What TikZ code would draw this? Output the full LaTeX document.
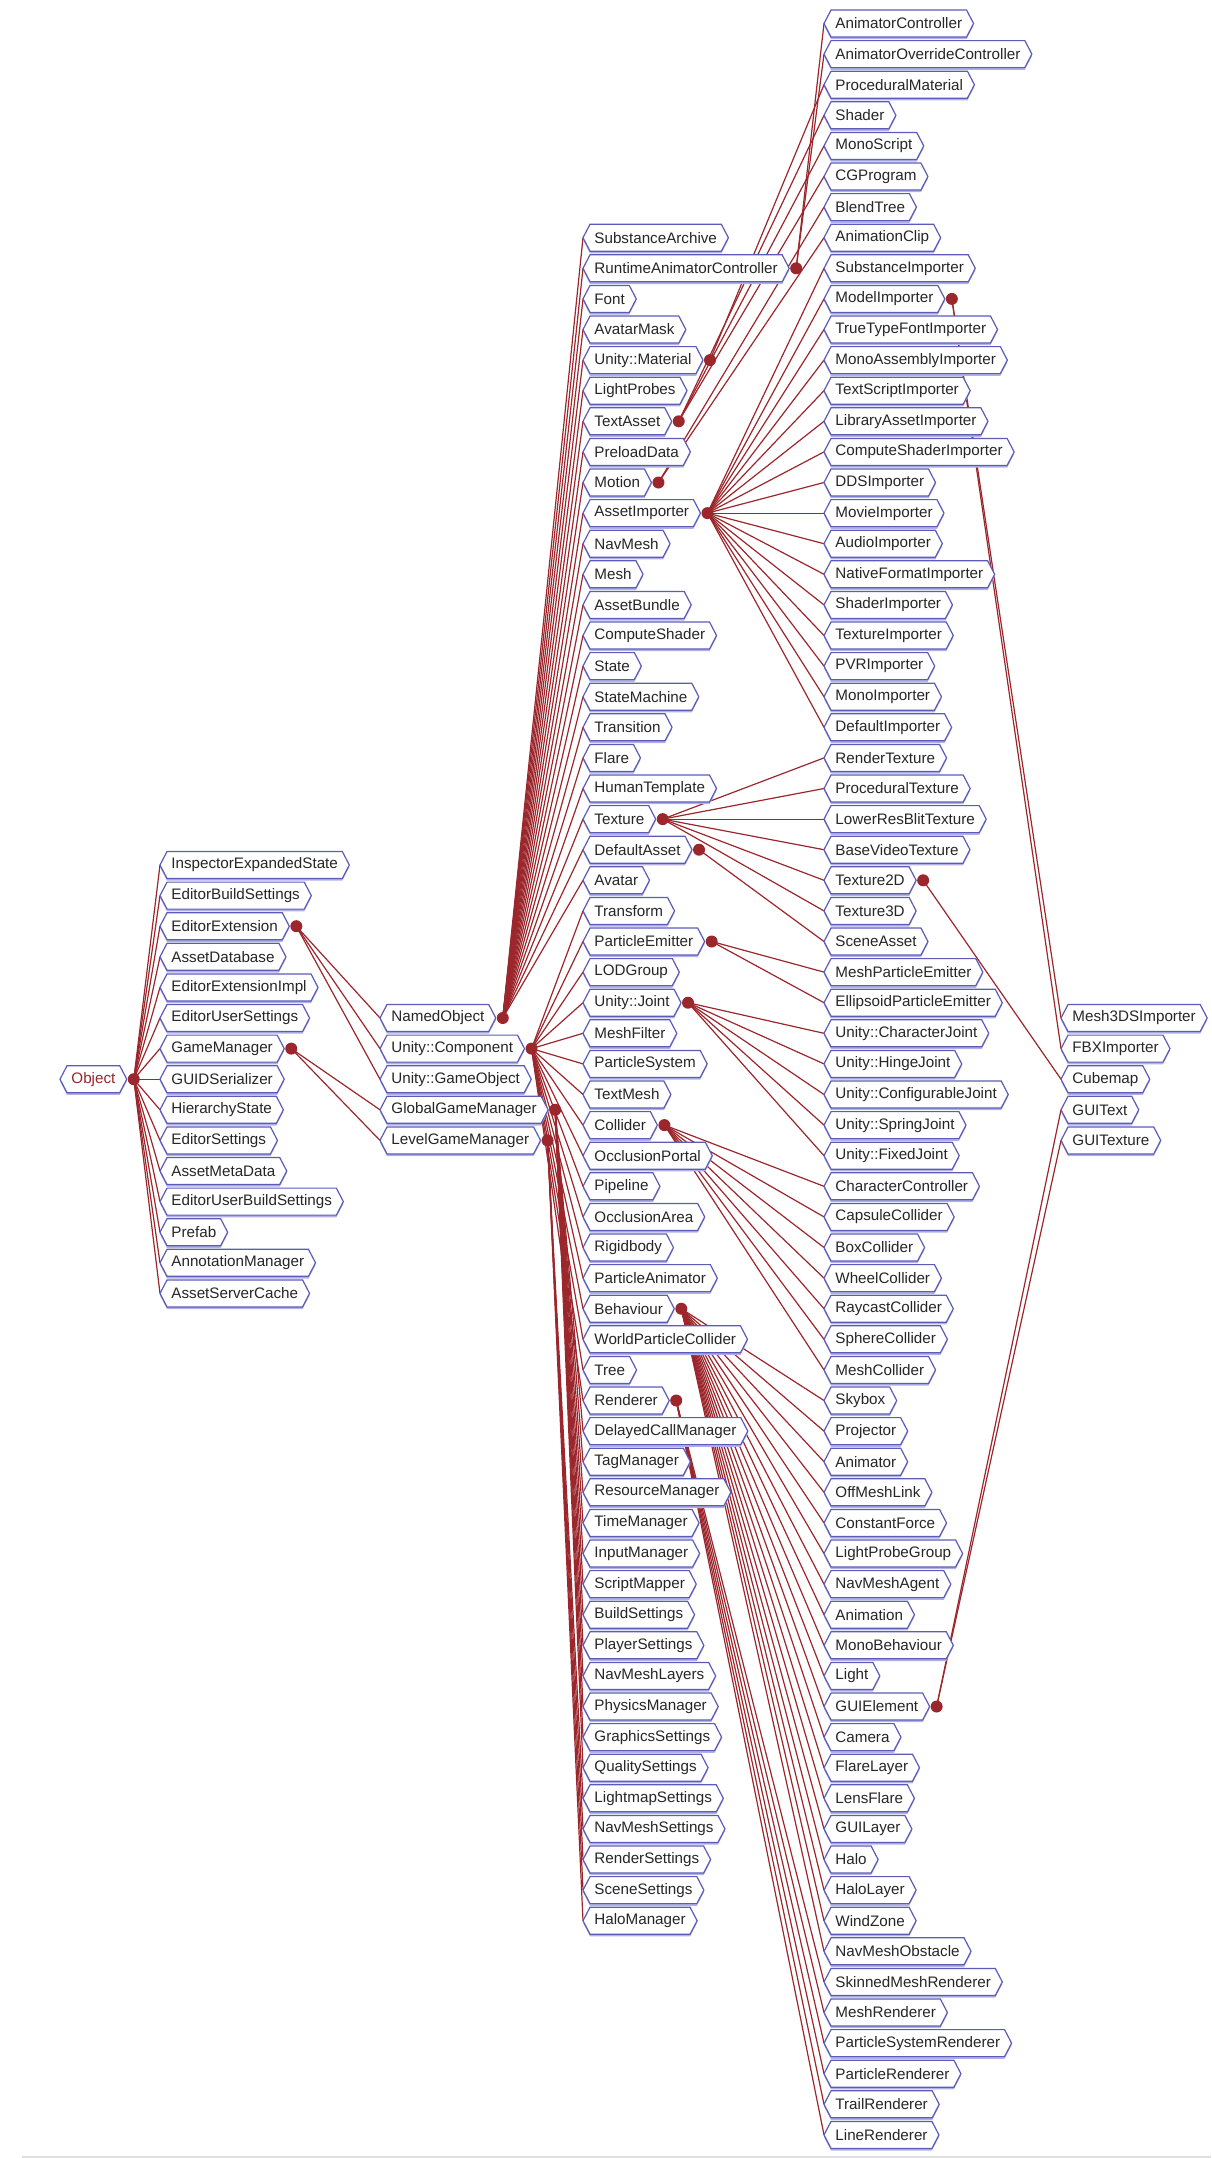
\documentclass[tikz,border=0pt]{standalone}
\usepackage{fontspec}
\setmainfont{Liberation Sans}
\usetikzlibrary{shapes.symbols,shadows,backgrounds}

\def\rowzero{23.5}
\def\rowdy{30.6}
\def\colA{60}
\def\colB{160}
\def\colC{380}
\def\colD{583}
\def\colE{824}
\def\colF{1061}
\definecolor{classblue}{RGB}{92,92,184}
\definecolor{classshade}{RGB}{176,176,230}
\definecolor{inheritred}{RGB}{155,38,44}
\newcommand{\rowY}[1]{\rowzero+(#1)*\rowdy}

\tikzset{
  cls/.style={signal,signal to=east and west,signal pointer angle=125,
    draw=classblue,line width=0.6pt,fill=white,text=black!85,
    font=\fontsize{7.6pt}{9pt}\selectfont,inner xsep=2.2pt,inner ysep=0pt,
    minimum height=13.5pt,outer sep=0pt,anchor=west,
    drop shadow={shadow xshift=0pt,shadow yshift=-1.1pt,fill=classshade,opacity=1}},
  inherit/.style={inheritred,line width=0.6pt},
  knob/.style={fill=inheritred},
}

\begin{document}
\begin{tikzpicture}[x=0.5pt,y=-0.5pt]
  \useasboundingbox (0,0) rectangle (1211,2158);
  % root and first level
  \node[cls,text=inheritred] (Object) at (\colA,{\rowY{34.5}}) {Object};
  \foreach \nm [count=\n from 0] in {InspectorExpandedState,EditorBuildSettings,EditorExtension,
      AssetDatabase,EditorExtensionImpl,EditorUserSettings,GameManager,GUIDSerializer,
      HierarchyState,EditorSettings,AssetMetaData,EditorUserBuildSettings,Prefab,
      AnnotationManager,AssetServerCache}
    \node[cls] (\nm) at (\colB,{\rowY{27.5+\n}}) {\nm};
  \foreach \nm/\lb [count=\n from 0] in {NamedObject/NamedObject,UnityComponent/Unity::Component,
      UnityGameObject/Unity::GameObject,GlobalGameManager/GlobalGameManager,
      LevelGameManager/LevelGameManager}
    \node[cls] (\nm) at (\colC,{\rowY{32.5+\n}}) {\lb};
  % third column
  \foreach \nm [count=\n from 7] in {SubstanceArchive,RuntimeAnimatorController,Font,AvatarMask}
    \node[cls] (\nm) at (\colD,{\rowY{\n}}) {\nm};
  \node[cls] (UnityMaterial) at (\colD,{\rowY{11}}) {Unity::Material};
  \foreach \nm [count=\n from 12] in {LightProbes,TextAsset,PreloadData,Motion,AssetImporter,
      NavMesh,Mesh,AssetBundle,ComputeShader,State,StateMachine,Transition,Flare,
      HumanTemplate,Texture,DefaultAsset,Avatar,Transform,ParticleEmitter,LODGroup}
    \node[cls] (\nm) at (\colD,{\rowY{\n}}) {\nm};
  \node[cls] (UnityJoint) at (\colD,{\rowY{32}}) {Unity::Joint};
  \foreach \nm [count=\n from 33] in {MeshFilter,ParticleSystem,TextMesh,Collider,OcclusionPortal,
      Pipeline,OcclusionArea,Rigidbody,ParticleAnimator,Behaviour,WorldParticleCollider,Tree,
      Renderer,DelayedCallManager,TagManager,ResourceManager,TimeManager,InputManager,
      ScriptMapper,BuildSettings,PlayerSettings,NavMeshLayers,PhysicsManager,GraphicsSettings,
      QualitySettings,LightmapSettings,NavMeshSettings,RenderSettings,SceneSettings,HaloManager}
    \node[cls] (\nm) at (\colD,{\rowY{\n}}) {\nm};
  % fourth column
  \foreach \nm [count=\n from 0] in {AnimatorController,AnimatorOverrideController,
      ProceduralMaterial,Shader,MonoScript,CGProgram,BlendTree,AnimationClip,SubstanceImporter,
      ModelImporter,TrueTypeFontImporter,MonoAssemblyImporter,TextScriptImporter,
      LibraryAssetImporter,ComputeShaderImporter,DDSImporter,MovieImporter,AudioImporter,
      NativeFormatImporter,ShaderImporter,TextureImporter,PVRImporter,MonoImporter,
      DefaultImporter,RenderTexture,ProceduralTexture,LowerResBlitTexture,BaseVideoTexture,
      Texture2D,Texture3D,SceneAsset,MeshParticleEmitter,EllipsoidParticleEmitter}
    \node[cls] (\nm) at (\colE,{\rowY{\n}}) {\nm};
  \foreach \nm [count=\n from 33] in {CharacterJoint,HingeJoint,ConfigurableJoint,SpringJoint,FixedJoint}
    \node[cls] (\nm) at (\colE,{\rowY{\n}}) {Unity::\nm};
  \foreach \nm [count=\n from 38] in {CharacterController,CapsuleCollider,BoxCollider,
      WheelCollider,RaycastCollider,SphereCollider,MeshCollider,Skybox,Projector,Animator,
      OffMeshLink,ConstantForce,LightProbeGroup,NavMeshAgent,Animation,MonoBehaviour,Light,
      GUIElement,Camera,FlareLayer,LensFlare,GUILayer,Halo,HaloLayer,WindZone,NavMeshObstacle,
      SkinnedMeshRenderer,MeshRenderer,ParticleSystemRenderer,ParticleRenderer,TrailRenderer,
      LineRenderer}
    \node[cls] (\nm) at (\colE,{\rowY{\n}}) {\nm};
  % fifth column
  \foreach \nm [count=\n from 0] in {Mesh3DSImporter,FBXImporter,Cubemap,GUIText,GUITexture}
    \node[cls] (\nm) at (\colF,{\rowY{32.5+\n}}) {\nm};

  % parent knobs
  \foreach \p in {Object,EditorExtension,GameManager,NamedObject,UnityComponent,GlobalGameManager,
      LevelGameManager,RuntimeAnimatorController,UnityMaterial,TextAsset,Motion,AssetImporter,
      Texture,DefaultAsset,ParticleEmitter,UnityJoint,Collider,Behaviour,Renderer,
      ModelImporter,Texture2D,GUIElement}
    \coordinate (d\p) at ([xshift=3.5pt]\p.east);

  \begin{scope}[on background layer]
    \foreach \k in {InspectorExpandedState,EditorBuildSettings,EditorExtension,AssetDatabase,
        EditorExtensionImpl,EditorUserSettings,GameManager,GUIDSerializer,HierarchyState,
        EditorSettings,AssetMetaData,EditorUserBuildSettings,Prefab,AnnotationManager,
        AssetServerCache}
      \draw[inherit] (dObject) -- (\k.west);
    \foreach \k in {NamedObject,UnityComponent,UnityGameObject}
      \draw[inherit] (dEditorExtension) -- (\k.west);
    \foreach \k in {GlobalGameManager,LevelGameManager}
      \draw[inherit] (dGameManager) -- (\k.west);
    \foreach \k in {SubstanceArchive,RuntimeAnimatorController,Font,AvatarMask,UnityMaterial,
        LightProbes,TextAsset,PreloadData,Motion,AssetImporter,NavMesh,Mesh,AssetBundle,
        ComputeShader,State,StateMachine,Transition,Flare,HumanTemplate,Texture,DefaultAsset,
        Avatar}
      \draw[inherit] (dNamedObject) -- (\k.west);
    \foreach \k in {Transform,ParticleEmitter,LODGroup,UnityJoint,MeshFilter,ParticleSystem,
        TextMesh,Collider,OcclusionPortal,Pipeline,OcclusionArea,Rigidbody,ParticleAnimator,
        Behaviour,WorldParticleCollider,Tree,Renderer}
      \draw[inherit] (dUnityComponent) -- (\k.west);
    \foreach \k in {DelayedCallManager,TagManager,ResourceManager,TimeManager,InputManager,
        ScriptMapper,BuildSettings,PlayerSettings,NavMeshLayers,PhysicsManager,
        GraphicsSettings,QualitySettings}
      \draw[inherit] (dGlobalGameManager) -- (\k.west);
    \foreach \k in {LightmapSettings,NavMeshSettings,RenderSettings,SceneSettings,HaloManager}
      \draw[inherit] (dLevelGameManager) -- (\k.west);
    \foreach \k in {AnimatorController,AnimatorOverrideController}
      \draw[inherit] (dRuntimeAnimatorController) -- (\k.west);
    \draw[inherit] (dUnityMaterial) -- (ProceduralMaterial.west);
    \foreach \k in {Shader,MonoScript,CGProgram}
      \draw[inherit] (dTextAsset) -- (\k.west);
    \foreach \k in {BlendTree,AnimationClip}
      \draw[inherit] (dMotion) -- (\k.west);
    \foreach \k in {SubstanceImporter,ModelImporter,TrueTypeFontImporter,MonoAssemblyImporter,
        TextScriptImporter,LibraryAssetImporter,ComputeShaderImporter,DDSImporter,
        MovieImporter,AudioImporter,NativeFormatImporter,ShaderImporter,TextureImporter,
        PVRImporter,MonoImporter,DefaultImporter}
      \draw[inherit] (dAssetImporter) -- (\k.west);
    \foreach \k in {RenderTexture,ProceduralTexture,LowerResBlitTexture,BaseVideoTexture,
        Texture2D,Texture3D}
      \draw[inherit] (dTexture) -- (\k.west);
    \draw[inherit] (dDefaultAsset) -- (SceneAsset.west);
    \foreach \k in {MeshParticleEmitter,EllipsoidParticleEmitter}
      \draw[inherit] (dParticleEmitter) -- (\k.west);
    \foreach \k in {CharacterJoint,HingeJoint,ConfigurableJoint,SpringJoint,FixedJoint}
      \draw[inherit] (dUnityJoint) -- (\k.west);
    \foreach \k in {CharacterController,CapsuleCollider,BoxCollider,WheelCollider,
        RaycastCollider,SphereCollider,MeshCollider}
      \draw[inherit] (dCollider) -- (\k.west);
    \foreach \k in {Skybox,Projector,Animator,OffMeshLink,ConstantForce,LightProbeGroup,
        NavMeshAgent,Animation,MonoBehaviour,Light,GUIElement,Camera,FlareLayer,LensFlare,
        GUILayer,Halo,HaloLayer,WindZone,NavMeshObstacle}
      \draw[inherit] (dBehaviour) -- (\k.west);
    \foreach \k in {SkinnedMeshRenderer,MeshRenderer,ParticleSystemRenderer,ParticleRenderer,
        TrailRenderer,LineRenderer}
      \draw[inherit] (dRenderer) -- (\k.west);
    \foreach \k in {Mesh3DSImporter,FBXImporter}
      \draw[inherit] (dModelImporter) -- (\k.west);
    \draw[inherit] (dTexture2D) -- (Cubemap.west);
    \foreach \k in {GUIText,GUITexture}
      \draw[inherit] (dGUIElement) -- (\k.west);
  \end{scope}

  \foreach \p in {Object,EditorExtension,GameManager,NamedObject,UnityComponent,GlobalGameManager,
      LevelGameManager,RuntimeAnimatorController,UnityMaterial,TextAsset,Motion,AssetImporter,
      Texture,DefaultAsset,ParticleEmitter,UnityJoint,Collider,Behaviour,Renderer,
      ModelImporter,Texture2D,GUIElement}
    \fill[knob] (d\p) circle (3pt);

  \draw[gray!25,line width=1pt] (22,2157) -- (1211,2157);
\end{tikzpicture}
\end{document}
